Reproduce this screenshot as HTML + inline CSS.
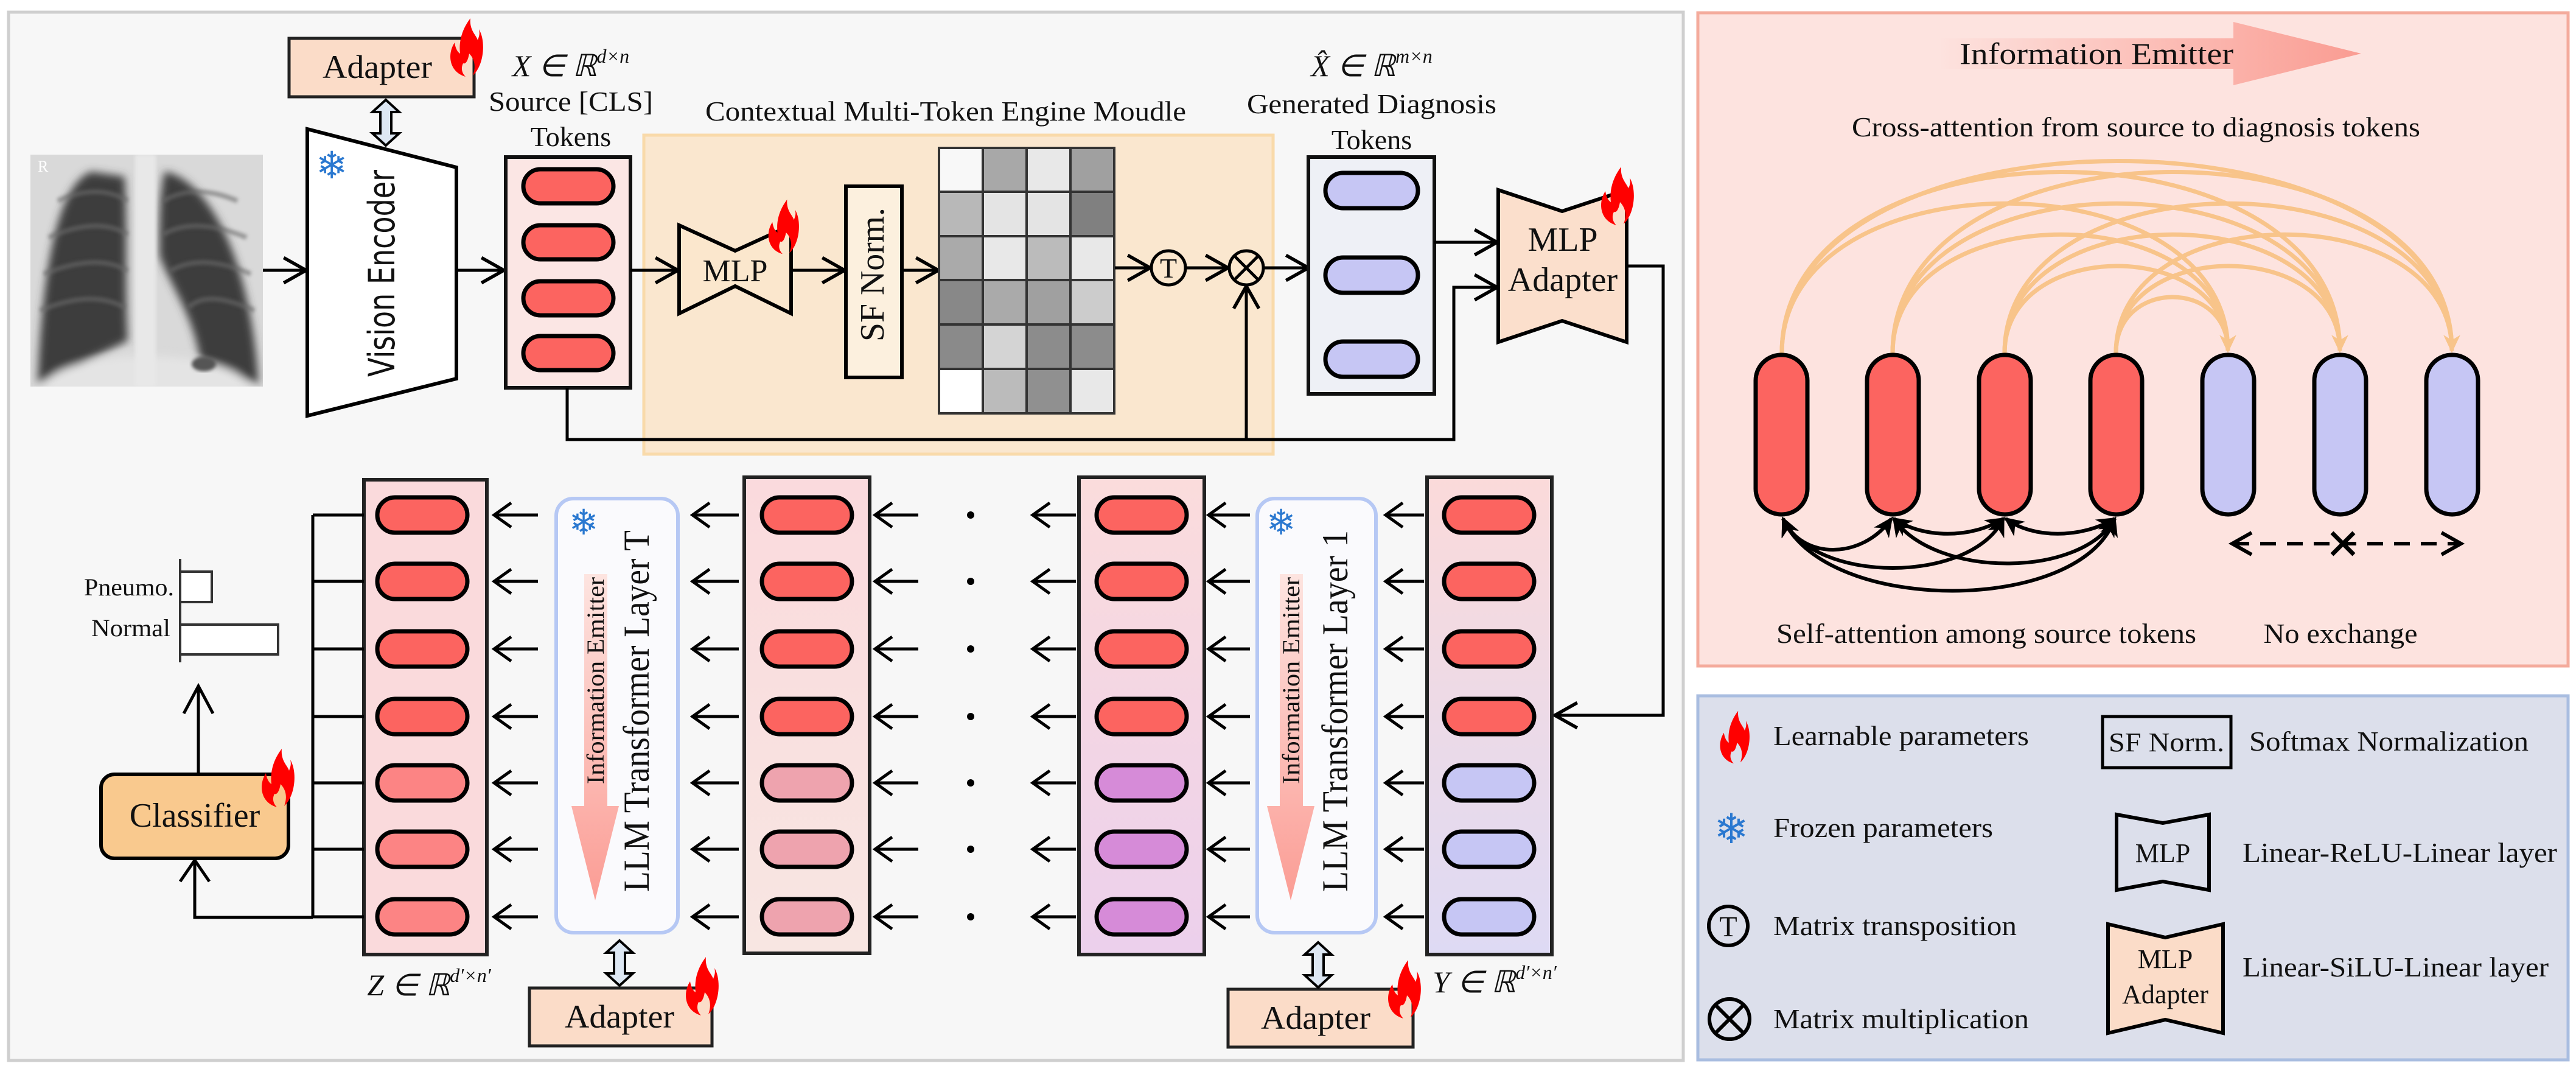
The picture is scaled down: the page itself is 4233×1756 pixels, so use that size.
<!DOCTYPE html>
<html><head><meta charset="utf-8"><style>
html,body{margin:0;padding:0;background:#fff;}
svg{display:block;}
text{font-family:"Liberation Serif",serif;fill:#111;}
</style></head><body>
<svg width="4233" height="1756" viewBox="0 0 4233 1756" xmlns="http://www.w3.org/2000/svg">
<defs>
<marker id="ahb" viewBox="0 0 20 20" refX="18" refY="10" markerWidth="46" markerHeight="46" markerUnits="userSpaceOnUse" orient="auto">
<path d="M2,1 L18,10 L2,19" fill="none" stroke="#000" stroke-width="2.4"/></marker>
<marker id="ao" viewBox="0 0 20 20" refX="16" refY="10" markerWidth="34" markerHeight="34" markerUnits="userSpaceOnUse" orient="auto">
<path d="M1,2 L18,10 L1,18 L6,10Z" fill="#f8c48a"/></marker>
<marker id="ak" viewBox="0 0 20 20" refX="16" refY="10" markerWidth="38" markerHeight="38" markerUnits="userSpaceOnUse" orient="auto-start-reverse">
<path d="M1,2 L18,10 L1,18 L6,10Z" fill="#000"/></marker>
<symbol id="flame" viewBox="-30 -50 60 100">
<path d="M0,48 C-28,40 -30,10 -18,-8 C-16,4 -12,8 -9,10 C-12,-15 -2,-35 8,-48 C6,-28 18,-20 20,-12 C22,-18 24,-22 22,-30 C34,-10 30,30 12,46 C18,30 14,18 6,10 C4,22 0,28 -4,26 C-8,34 -6,42 0,48Z" fill="#f00"/>
</symbol>
<linearGradient id="gB2" x1="0" y1="0" x2="0" y2="1"><stop offset="0" stop-color="#fadadd"/><stop offset="1" stop-color="#f8e6e2"/></linearGradient>
<linearGradient id="gB3" x1="0" y1="0" x2="0" y2="1"><stop offset="0" stop-color="#fbdcdc"/><stop offset="1" stop-color="#ecd0ec"/></linearGradient>
<linearGradient id="gY" x1="0" y1="0" x2="0" y2="1"><stop offset="0" stop-color="#fbdada"/><stop offset="1" stop-color="#dedaf4"/></linearGradient>
<linearGradient id="gEm" x1="0" y1="0" x2="0" y2="1"><stop offset="0" stop-color="#fde4e0"/><stop offset="1" stop-color="#fb9c94"/></linearGradient>
<linearGradient id="gEh" x1="0" y1="0" x2="1" y2="0"><stop offset="0" stop-color="#fde2de"/><stop offset="1" stop-color="#fa9c92"/></linearGradient>
<filter id="blur" x="-10%" y="-10%" width="120%" height="120%"><feGaussianBlur stdDeviation="7"/></filter>
<filter id="blur2"><feGaussianBlur stdDeviation="3"/></filter>
<clipPath id="xc"><rect x="50" y="254" width="382" height="381"/></clipPath>
</defs>

<rect x="14" y="20" width="2752" height="1722" fill="#f7f7f7" stroke="#cfcfcf" stroke-width="5"/>

<!-- X-ray -->
<g clip-path="url(#xc)">
<rect x="50" y="254" width="382" height="381" fill="#d9d9d9"/>
<g filter="url(#blur)">
<path d="M150,282 C100,300 70,420 62,630 L210,560 C205,470 210,380 205,290 Z" fill="#3c3c3c"/>
<path d="M270,282 C330,290 410,400 425,630 L330,600 C320,520 280,470 262,420 C262,360 262,320 270,282 Z" fill="#3c3c3c"/>
<ellipse cx="240" cy="640" rx="170" ry="55" fill="#e4e4e4"/>
</g>
<rect x="222" y="254" width="34" height="381" fill="#e8e8e8" filter="url(#blur2)"/>
<g stroke="#6a6a6a" stroke-width="8" fill="none" opacity="0.6" filter="url(#blur2)">
<path d="M95,330 Q160,300 210,330"/><path d="M80,390 Q160,355 210,385"/><path d="M72,450 Q160,415 210,445"/><path d="M66,510 Q150,475 205,505"/>
<path d="M390,330 Q320,300 268,330"/><path d="M405,390 Q320,355 268,385"/><path d="M412,450 Q330,415 280,445"/><path d="M418,510 Q340,475 310,505"/>
</g>
<ellipse cx="335" cy="598" rx="20" ry="12" fill="#555" filter="url(#blur2)"/>
<text x="62" y="282" font-size="26" style="fill:#fff">R</text>
</g>

<line x1="432" y1="444" x2="503" y2="444" stroke="#000" stroke-width="5" marker-end="url(#ahb)"/>
<polygon points="505,212 750,275 750,622 505,683" fill="#fff" stroke="#000" stroke-width="6"/>
<text x="545" y="293" font-size="62" text-anchor="middle" style="font-family:'DejaVu Sans',sans-serif;fill:#2a78d0">❄</text>
<text transform="translate(648,449) rotate(-90)" font-size="60" text-anchor="middle" textLength="340" lengthAdjust="spacingAndGlyphs" style="font-family:'DejaVu Sans',sans-serif">Vision Encoder</text>
<rect x="475" y="63" width="304" height="96" fill="#fbdcc8" stroke="#222" stroke-width="5"/>
<text x="620" y="128" font-size="54" text-anchor="middle" textLength="180" lengthAdjust="spacingAndGlyphs">Adapter</text>
<use href="#flame" x="735" y="28" width="60" height="100"/>
<polygon points="634,164 656,184 643,184 643,219 656,219 634,239 612,219 625,219 625,184 612,184" fill="#dde7f3" stroke="#000" stroke-width="4"/>

<line x1="750" y1="444" x2="828" y2="444" stroke="#000" stroke-width="5" marker-end="url(#ahb)"/>
<text x="938" y="125" font-size="50" font-style="italic" text-anchor="middle">X ∈ ℝ<tspan font-size="32" dy="-22">d×n</tspan></text>
<text x="938" y="182" font-size="46" text-anchor="middle" textLength="270" lengthAdjust="spacingAndGlyphs">Source [CLS]</text>
<text x="938" y="240" font-size="46" text-anchor="middle">Tokens</text>
<rect x="831" y="258" width="205" height="379" fill="#fbe6e4" stroke="#111" stroke-width="6"/>
<g fill="#fc6460" stroke="#000" stroke-width="7">
<rect x="860" y="278" width="148" height="56" rx="28"/>
<rect x="860" y="370" width="148" height="56" rx="28"/>
<rect x="860" y="462" width="148" height="56" rx="28"/>
<rect x="860" y="552" width="148" height="56" rx="28"/>
</g>

<text x="1554" y="198" font-size="46" text-anchor="middle" textLength="790" lengthAdjust="spacingAndGlyphs">Contextual Multi-Token Engine Moudle</text>
<rect x="1058" y="222" width="1034" height="524" fill="#fbe7cd" stroke="#fad9a6" stroke-width="5" opacity="0.95"/>
<line x1="1036" y1="444" x2="1114" y2="444" stroke="#000" stroke-width="5" marker-end="url(#ahb)"/>
<polygon points="1116,370 1208,412 1300,370 1300,515 1208,470 1116,515" fill="#fbe7cd" stroke="#000" stroke-width="6"/>
<text x="1208" y="462" font-size="52" text-anchor="middle">MLP</text>
<use href="#flame" x="1258" y="325" width="56" height="95"/>
<line x1="1300" y1="444" x2="1388" y2="444" stroke="#000" stroke-width="5" marker-end="url(#ahb)"/>
<rect x="1390" y="306" width="92" height="314" fill="#fcf0de" stroke="#000" stroke-width="6"/>
<text transform="translate(1452,451) rotate(-90)" font-size="56" text-anchor="middle" textLength="220" lengthAdjust="spacingAndGlyphs">SF Norm.</text>
<line x1="1482" y1="444" x2="1542" y2="444" stroke="#000" stroke-width="5" marker-end="url(#ahb)"/>
<g stroke="#333" stroke-width="4">
<rect x="1543" y="243" width="72" height="72" fill="#f8f8f8"/><rect x="1615" y="243" width="72" height="72" fill="#a8a8a8"/><rect x="1687" y="243" width="72" height="72" fill="#e8e8e8"/><rect x="1759" y="243" width="72" height="72" fill="#a0a0a0"/>
<rect x="1543" y="315" width="72" height="73" fill="#b8b8b8"/><rect x="1615" y="315" width="72" height="73" fill="#e4e4e4"/><rect x="1687" y="315" width="72" height="73" fill="#e4e4e4"/><rect x="1759" y="315" width="72" height="73" fill="#808080"/>
<rect x="1543" y="388" width="72" height="72" fill="#aaa"/><rect x="1615" y="388" width="72" height="72" fill="#e8e8e8"/><rect x="1687" y="388" width="72" height="72" fill="#bbb"/><rect x="1759" y="388" width="72" height="72" fill="#e8e8e8"/>
<rect x="1543" y="460" width="72" height="73" fill="#888"/><rect x="1615" y="460" width="72" height="73" fill="#aaa"/><rect x="1687" y="460" width="72" height="73" fill="#a0a0a0"/><rect x="1759" y="460" width="72" height="73" fill="#ccc"/>
<rect x="1543" y="533" width="72" height="73" fill="#8a8a8a"/><rect x="1615" y="533" width="72" height="73" fill="#d4d4d4"/><rect x="1687" y="533" width="72" height="73" fill="#8c8c8c"/><rect x="1759" y="533" width="72" height="73" fill="#8c8c8c"/>
<rect x="1543" y="606" width="72" height="73" fill="#fff"/><rect x="1615" y="606" width="72" height="73" fill="#bbb"/><rect x="1687" y="606" width="72" height="73" fill="#909090"/><rect x="1759" y="606" width="72" height="73" fill="#e8e8e8"/>
</g>
<line x1="1832" y1="440" x2="1890" y2="440" stroke="#000" stroke-width="5" marker-end="url(#ahb)"/>
<circle cx="1920" cy="440" r="28" fill="#fbe7cd" stroke="#000" stroke-width="5"/>
<text x="1920" y="456" font-size="46" text-anchor="middle">T</text>
<line x1="1948" y1="440" x2="2018" y2="440" stroke="#000" stroke-width="5" marker-end="url(#ahb)"/>
<circle cx="2048" cy="440" r="28" fill="#fbe7cd" stroke="#000" stroke-width="5"/>
<line x1="2028" y1="420" x2="2068" y2="460" stroke="#000" stroke-width="5"/><line x1="2068" y1="420" x2="2028" y2="460" stroke="#000" stroke-width="5"/>
<line x1="2076" y1="440" x2="2150" y2="440" stroke="#000" stroke-width="5" marker-end="url(#ahb)"/>
<polyline points="932,637 932,722 2389,722 2389,472 2460,472" fill="none" stroke="#000" stroke-width="5" marker-end="url(#ahb)"/>
<line x1="2048" y1="722" x2="2048" y2="470" stroke="#000" stroke-width="5" marker-end="url(#ahb)"/>

<text x="2254" y="125" font-size="50" font-style="italic" text-anchor="middle">X̂ ∈ ℝ<tspan font-size="32" dy="-22">m×n</tspan></text>
<text x="2254" y="186" font-size="46" text-anchor="middle" textLength="410" lengthAdjust="spacingAndGlyphs">Generated Diagnosis</text>
<text x="2254" y="245" font-size="46" text-anchor="middle">Tokens</text>
<rect x="2150" y="258" width="207" height="389" fill="#eef0f6" stroke="#111" stroke-width="6"/>
<g fill="#c6c6f4" stroke="#000" stroke-width="7">
<rect x="2178" y="284" width="152" height="58" rx="29"/>
<rect x="2178" y="423" width="152" height="58" rx="29"/>
<rect x="2178" y="561" width="152" height="58" rx="29"/>
</g>
<line x1="2357" y1="398" x2="2460" y2="398" stroke="#000" stroke-width="5" marker-end="url(#ahb)"/>
<polygon points="2462,312 2567,347 2673,312 2673,562 2567,527 2462,562" fill="#fbdfcc" stroke="#000" stroke-width="6"/>
<text x="2568" y="412" font-size="56" text-anchor="middle">MLP</text>
<text x="2568" y="478" font-size="56" text-anchor="middle">Adapter</text>
<use href="#flame" x="2626" y="272" width="60" height="100"/>
<polyline points="2673,437 2733,437 2733,1175 2555,1175" fill="none" stroke="#000" stroke-width="5" marker-end="url(#ahb)"/>

<rect x="598" y="788" width="202" height="780" fill="#fadadc" stroke="#222" stroke-width="6"/>
<rect x="1223" y="784" width="206" height="782" fill="url(#gB2)" stroke="#222" stroke-width="6"/>
<rect x="1773" y="784" width="206" height="784" fill="url(#gB3)" stroke="#222" stroke-width="6"/>
<rect x="2345" y="784" width="205" height="784" fill="url(#gY)" stroke="#222" stroke-width="6"/>
<g stroke="#000" stroke-width="7">
<g fill="#fc6460"><rect x="620" y="817" width="148" height="58" rx="29"/><rect x="620" y="926" width="148" height="58" rx="29"/><rect x="620" y="1037" width="148" height="58" rx="29"/><rect x="620" y="1148" width="148" height="58" rx="29"/></g>
<g fill="#fc8484"><rect x="620" y="1257" width="148" height="58" rx="29"/><rect x="620" y="1366" width="148" height="58" rx="29"/><rect x="620" y="1477" width="148" height="58" rx="29"/></g>
<g fill="#fc6460"><rect x="1252" y="817" width="148" height="58" rx="29"/><rect x="1252" y="926" width="148" height="58" rx="29"/><rect x="1252" y="1037" width="148" height="58" rx="29"/><rect x="1252" y="1148" width="148" height="58" rx="29"/></g>
<g fill="#eea3ae"><rect x="1252" y="1257" width="148" height="58" rx="29"/><rect x="1252" y="1366" width="148" height="58" rx="29"/><rect x="1252" y="1477" width="148" height="58" rx="29"/></g>
<g fill="#fc6460"><rect x="1802" y="817" width="148" height="58" rx="29"/><rect x="1802" y="926" width="148" height="58" rx="29"/><rect x="1802" y="1037" width="148" height="58" rx="29"/><rect x="1802" y="1148" width="148" height="58" rx="29"/></g>
<g fill="#d68bd8"><rect x="1802" y="1257" width="148" height="58" rx="29"/><rect x="1802" y="1366" width="148" height="58" rx="29"/><rect x="1802" y="1477" width="148" height="58" rx="29"/></g>
<g fill="#fc6460"><rect x="2373" y="817" width="148" height="58" rx="29"/><rect x="2373" y="926" width="148" height="58" rx="29"/><rect x="2373" y="1037" width="148" height="58" rx="29"/><rect x="2373" y="1148" width="148" height="58" rx="29"/></g>
<g fill="#c6c6f4"><rect x="2373" y="1257" width="148" height="58" rx="29"/><rect x="2373" y="1366" width="148" height="58" rx="29"/><rect x="2373" y="1477" width="148" height="58" rx="29"/></g>
</g>
<rect x="914" y="819" width="200" height="713" rx="28" fill="#fafafd" stroke="#b6c8f4" stroke-width="6"/>
<rect x="2066" y="819" width="195" height="713" rx="28" fill="#fafafd" stroke="#b6c8f4" stroke-width="6"/>
<polygon points="960,943 998,943 998,1324 1017,1324 978,1479 939,1324 960,1324" fill="url(#gEm)"/>
<polygon points="2103,943 2141,943 2141,1324 2160,1324 2121,1479 2082,1324 2103,1324" fill="url(#gEm)"/>
<text transform="translate(992,1118) rotate(-90)" font-size="40" text-anchor="middle" textLength="340" lengthAdjust="spacingAndGlyphs">Information Emitter</text>
<text transform="translate(2135,1118) rotate(-90)" font-size="40" text-anchor="middle" textLength="340" lengthAdjust="spacingAndGlyphs">Information Emitter</text>
<text transform="translate(1066,1168) rotate(-90)" font-size="60" text-anchor="middle" textLength="594" lengthAdjust="spacingAndGlyphs">LLM Transformer Layer T</text>
<text transform="translate(2214,1168) rotate(-90)" font-size="60" text-anchor="middle" textLength="594" lengthAdjust="spacingAndGlyphs">LLM Transformer Layer 1</text>
<text x="959" y="878" font-size="58" text-anchor="middle" style="font-family:'DejaVu Sans',sans-serif;fill:#2a78d0">❄</text>
<text x="2105" y="878" font-size="58" text-anchor="middle" style="font-family:'DejaVu Sans',sans-serif;fill:#2a78d0">❄</text>

<g stroke="#000" stroke-width="5" fill="none">
<path d="M884,846H812 M1214,846H1138 M1509,846H1438 M1768,846H1697 M2054,846H1986 M2340,846H2277"/>
<path d="M884,955H812 M1214,955H1138 M1509,955H1438 M1768,955H1697 M2054,955H1986 M2340,955H2277"/>
<path d="M884,1066H812 M1214,1066H1138 M1509,1066H1438 M1768,1066H1697 M2054,1066H1986 M2340,1066H2277"/>
<path d="M884,1177H812 M1214,1177H1138 M1509,1177H1438 M1768,1177H1697 M2054,1177H1986 M2340,1177H2277"/>
<path d="M884,1286H812 M1214,1286H1138 M1509,1286H1438 M1768,1286H1697 M2054,1286H1986 M2340,1286H2277"/>
<path d="M884,1395H812 M1214,1395H1138 M1509,1395H1438 M1768,1395H1697 M2054,1395H1986 M2340,1395H2277"/>
<path d="M884,1506H812 M1214,1506H1138 M1509,1506H1438 M1768,1506H1697 M2054,1506H1986 M2340,1506H2277"/>
</g>
<g stroke="#000" stroke-width="5" fill="none" id="heads">
<path d="M840,826 L812,846 L840,866 M1166,826 L1138,846 L1166,866 M1466,826 L1438,846 L1466,866 M1725,826 L1697,846 L1725,866 M2014,826 L1986,846 L2014,866 M2305,826 L2277,846 L2305,866"/>
</g>
<use href="#heads" y="109"/><use href="#heads" y="220"/><use href="#heads" y="331"/><use href="#heads" y="440"/><use href="#heads" y="549"/><use href="#heads" y="660"/>
<g fill="#000"><circle cx="1595" cy="846" r="6"/><circle cx="1595" cy="955" r="6"/><circle cx="1595" cy="1066" r="6"/><circle cx="1595" cy="1177" r="6"/><circle cx="1595" cy="1286" r="6"/><circle cx="1595" cy="1395" r="6"/><circle cx="1595" cy="1506" r="6"/></g>
<g stroke="#000" stroke-width="5" fill="none">
<path d="M514,846V1507 M514,846H598 M514,955H598 M514,1066H598 M514,1177H598 M514,1286H598 M514,1395H598 M514,1506H598"/>
<polyline points="514,1507 320,1507 320,1415"/>
<path d="M296,1448 L320,1413 L344,1448"/>
<line x1="326" y1="1272" x2="326" y2="1129"/>
<path d="M302,1172 L326,1127 L350,1172"/>
</g>
<rect x="166" y="1272" width="308" height="138" rx="22" fill="#f9c98e" stroke="#000" stroke-width="6"/>
<text x="320" y="1358" font-size="56" text-anchor="middle">Classifier</text>
<use href="#flame" x="425" y="1228" width="60" height="100"/>
<g stroke="#333" stroke-width="4" fill="#fff"><line x1="296" y1="918" x2="296" y2="1088"/><rect x="296" y="939" width="52" height="50"/><rect x="296" y="1026" width="161" height="49"/></g>
<text x="286" y="978" font-size="40" text-anchor="end" textLength="148" lengthAdjust="spacingAndGlyphs">Pneumo.</text>
<text x="280" y="1045" font-size="40" text-anchor="end" textLength="130" lengthAdjust="spacingAndGlyphs">Normal</text>
<text x="705" y="1635" font-size="50" font-style="italic" text-anchor="middle">Z ∈ ℝ<tspan font-size="32" dy="-22">d′×n′</tspan></text>
<text x="2456" y="1630" font-size="50" font-style="italic" text-anchor="middle">Y ∈ ℝ<tspan font-size="32" dy="-22">d′×n′</tspan></text>
<rect x="870" y="1623" width="300" height="95" fill="#fbdcc8" stroke="#222" stroke-width="5"/>
<text x="1018" y="1688" font-size="54" text-anchor="middle" textLength="180" lengthAdjust="spacingAndGlyphs">Adapter</text>
<use href="#flame" x="1122" y="1570" width="60" height="100"/>
<rect x="2018" y="1625" width="304" height="95" fill="#fbdcc8" stroke="#222" stroke-width="5"/>
<text x="2162" y="1690" font-size="54" text-anchor="middle" textLength="180" lengthAdjust="spacingAndGlyphs">Adapter</text>
<use href="#flame" x="2276" y="1575" width="60" height="100"/>
<polygon points="1018,1545 1040,1565 1027,1565 1027,1599 1040,1599 1018,1619 996,1599 1009,1599 1009,1565 996,1565" fill="#dde7f3" stroke="#000" stroke-width="4"/>
<polygon points="2166,1548 2188,1568 2175,1568 2175,1602 2188,1602 2166,1622 2144,1602 2157,1602 2157,1568 2144,1568" fill="#dde7f3" stroke="#000" stroke-width="4"/>

<rect x="2790" y="21" width="1430" height="1073" fill="#fde3df" stroke="#f4ab9c" stroke-width="5"/>
<polygon points="3190,63 3670,63 3670,36 3880,88 3670,140 3670,113 3190,113" fill="url(#gEh)"/>
<text x="3445" y="105" font-size="50" text-anchor="middle" textLength="450" lengthAdjust="spacingAndGlyphs">Information Emitter</text>
<text x="3510" y="224" font-size="46" text-anchor="middle" textLength="934" lengthAdjust="spacingAndGlyphs">Cross-attention from source to diagnosis tokens</text>
<g fill="none" stroke="#f8c48a" stroke-width="7" marker-end="url(#ao)">
<path d="M2928,580 C2928,253 3661,253 3661,576"/>
<path d="M2928,580 C2928,184 3845,184 3845,576"/>
<path d="M2928,580 C2928,160 4029,160 4029,576"/>
<path d="M3110,580 C3110,321 3661,321 3661,576"/>
<path d="M3110,580 C3110,253 3845,253 3845,576"/>
<path d="M3110,580 C3110,184 4029,184 4029,576"/>
<path d="M3294,580 C3294,390 3661,390 3661,576"/>
<path d="M3294,580 C3294,321 3845,321 3845,576"/>
<path d="M3294,580 C3294,253 4029,253 4029,576"/>
<path d="M3477,580 C3477,458 3661,458 3661,576"/>
<path d="M3477,580 C3477,390 3845,390 3845,576"/>
<path d="M3477,580 C3477,321 4029,321 4029,576"/>
</g>
<g stroke="#000" stroke-width="7">
<g fill="#fc6460"><rect x="2885" y="583" width="85" height="262" rx="42"/><rect x="3068" y="583" width="85" height="262" rx="42"/><rect x="3252" y="583" width="85" height="262" rx="42"/><rect x="3435" y="583" width="85" height="262" rx="42"/></g>
<g fill="#c6c6f4"><rect x="3619" y="583" width="85" height="262" rx="42"/><rect x="3803" y="583" width="85" height="262" rx="42"/><rect x="3987" y="583" width="85" height="262" rx="42"/></g>
</g>
<g fill="none" stroke="#000" stroke-width="6" marker-start="url(#ak)" marker-end="url(#ak)">
<path d="M2930,852 C2960,920 3060,920 3108,852"/>
<path d="M2930,852 C2980,960 3240,960 3292,852"/>
<path d="M2930,852 C3000,1010 3420,1010 3475,852"/>
<path d="M3112,852 C3160,885 3240,885 3292,852"/>
<path d="M3112,852 C3180,950 3420,950 3475,852"/>
<path d="M3296,852 C3340,885 3420,885 3475,852"/>
</g>
<line x1="3670" y1="893" x2="4040" y2="893" stroke="#000" stroke-width="6" stroke-dasharray="26,18"/>
<path d="M3700,875 L3668,893 L3700,911 M4012,875 L4044,893 L4012,911" fill="none" stroke="#000" stroke-width="6"/>
<path d="M3832,875 L3868,911 M3868,875 L3832,911" stroke="#000" stroke-width="7"/>
<text x="3264" y="1056" font-size="46" text-anchor="middle" textLength="690" lengthAdjust="spacingAndGlyphs">Self-attention among source tokens</text>
<text x="3846" y="1056" font-size="46" text-anchor="middle" textLength="253" lengthAdjust="spacingAndGlyphs">No exchange</text>

<rect x="2790" y="1143" width="1430" height="598" fill="#dcdfeb" stroke="#a9bde0" stroke-width="5"/>
<use href="#flame" x="2818" y="1166" width="62" height="90"/>
<text x="2914" y="1224" font-size="46" textLength="420" lengthAdjust="spacingAndGlyphs">Learnable parameters</text>
<text x="2845" y="1385" font-size="68" text-anchor="middle" style="font-family:'DejaVu Sans',sans-serif;fill:#2a78d0">❄</text>
<text x="2914" y="1375" font-size="46" textLength="361" lengthAdjust="spacingAndGlyphs">Frozen parameters</text>
<circle cx="2840" cy="1521" r="32" fill="none" stroke="#000" stroke-width="6"/>
<text x="2840" y="1538" font-size="48" text-anchor="middle">T</text>
<text x="2914" y="1536" font-size="46" textLength="400" lengthAdjust="spacingAndGlyphs">Matrix transposition</text>
<circle cx="2842" cy="1674" r="33" fill="none" stroke="#000" stroke-width="6"/>
<path d="M2819,1651 L2865,1697 M2865,1651 L2819,1697" stroke="#000" stroke-width="6"/>
<text x="2914" y="1689" font-size="46" textLength="420" lengthAdjust="spacingAndGlyphs">Matrix multiplication</text>
<rect x="3455" y="1177" width="211" height="84" fill="none" stroke="#000" stroke-width="5"/>
<text x="3560" y="1234" font-size="44" text-anchor="middle" textLength="190" lengthAdjust="spacingAndGlyphs">SF Norm.</text>
<text x="3696" y="1233" font-size="46" textLength="459" lengthAdjust="spacingAndGlyphs">Softmax Normalization</text>
<path d="M3478,1338 L3554,1352 L3630,1338 L3630,1462 L3554,1448 L3478,1462Z" fill="none" stroke="#000" stroke-width="6"/>
<text x="3554" y="1416" font-size="44" text-anchor="middle">MLP</text>
<text x="3685" y="1416" font-size="46" textLength="517" lengthAdjust="spacingAndGlyphs">Linear-ReLU-Linear layer</text>
<path d="M3464,1518 L3558,1540 L3653,1518 L3653,1697 L3558,1675 L3464,1697Z" fill="#fbdcc8" stroke="#000" stroke-width="6"/>
<text x="3558" y="1590" font-size="44" text-anchor="middle">MLP</text>
<text x="3558" y="1648" font-size="44" text-anchor="middle">Adapter</text>
<text x="3685" y="1604" font-size="46" textLength="503" lengthAdjust="spacingAndGlyphs">Linear-SiLU-Linear layer</text>
</svg>
</body></html>
